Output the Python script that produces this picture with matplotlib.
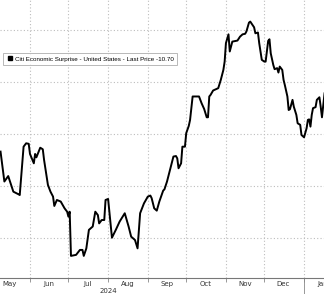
import matplotlib.pyplot as plt
import matplotlib.dates as mdates
from matplotlib.lines import Line2D
import pandas as pd

# Citi Economic Surprise Index - US
dates = ['2024-05-09', '2024-05-12', '2024-05-15', '2024-05-19', '2024-05-23', '2024-05-24',
         '2024-05-27', '2024-05-29', '2024-05-31', '2024-06-01', '2024-06-04', '2024-06-05',
         '2024-06-06', '2024-06-09', '2024-06-11', '2024-06-12', '2024-06-15', '2024-06-17',
         '2024-06-19', '2024-06-20', '2024-06-22', '2024-06-25', '2024-06-28', '2024-06-30',
         '2024-07-01', '2024-07-02', '2024-07-03', '2024-07-07', '2024-07-10', '2024-07-12',
         '2024-07-13', '2024-07-15', '2024-07-17', '2024-07-20', '2024-07-22', '2024-07-24',
         '2024-07-25', '2024-07-27', '2024-07-29', '2024-07-30', '2024-08-01', '2024-08-04',
         '2024-08-07', '2024-08-10', '2024-08-14', '2024-08-17', '2024-08-19', '2024-08-22',
         '2024-08-24', '2024-08-26', '2024-08-29', '2024-09-01', '2024-09-03', '2024-09-04',
         '2024-09-06', '2024-09-08', '2024-09-10', '2024-09-13', '2024-09-14', '2024-09-16',
         '2024-09-19', '2024-09-21', '2024-09-23', '2024-09-24', '2024-09-25', '2024-09-27',
         '2024-09-28', '2024-09-30', '2024-10-01', '2024-10-03', '2024-10-04', '2024-10-06',
         '2024-10-11', '2024-10-13', '2024-10-15', '2024-10-17', '2024-10-18', '2024-10-19',
         '2024-10-20', '2024-10-22', '2024-10-26', '2024-10-28', '2024-10-30', '2024-10-31',
         '2024-11-01', '2024-11-03', '2024-11-04', '2024-11-06', '2024-11-10', '2024-11-12',
         '2024-11-14', '2024-11-16', '2024-11-17', '2024-11-19', '2024-11-20', '2024-11-23',
         '2024-11-24', '2024-11-26', '2024-11-27', '2024-11-29', '2024-12-01', '2024-12-02',
         '2024-12-04', '2024-12-05', '2024-12-06', '2024-12-08', '2024-12-09', '2024-12-11',
         '2024-12-12', '2024-12-13', '2024-12-15', '2024-12-16', '2024-12-17', '2024-12-19',
         '2024-12-20', '2024-12-21', '2024-12-23', '2024-12-24', '2024-12-26', '2024-12-27',
         '2024-12-29', '2024-12-30', '2025-01-01', '2025-01-03', '2025-01-04', '2025-01-05',
         '2025-01-06', '2025-01-07', '2025-01-08', '2025-01-10', '2025-01-11', '2025-01-13',
         '2025-01-14', '2025-01-15', '2025-01-17']
values = [-6.8, -18.3, -16.2, -22.2, -23.2, -23.5,
          -4.9, -3.6, -3.8, -7.7, -11.3, -7.7,
          -9.0, -5.3, -5.9, -10.0, -19.6, -22.2,
          -24.1, -27.7, -25.4, -26.0, -28.6, -29.9,
          -31.8, -29.9, -46.9, -46.5, -44.6, -44.6,
          -46.9, -44.0, -36.9, -35.6, -29.9, -31.2,
          -34.4, -33.1, -33.1, -25.4, -25.0, -39.9,
          -36.9, -33.7, -30.5, -35.6, -39.5, -40.8,
          -44.0, -30.5, -26.7, -24.1, -23.7, -24.7,
          -28.6, -29.5, -26.0, -21.8, -21.3, -18.3,
          -12.6, -8.7, -8.5, -9.4, -13.2, -11.3,
          -4.9, -4.9, 0.3, 3.1, 5.4, 14.4,
          14.4, 11.8, 9.6, 6.4, 6.4, 14.4,
          15.0, 16.7, 17.6, 20.8, 24.6, 27.8,
          34.9, 38.3, 31.7, 35.5, 35.9, 37.4,
          38.3, 38.5, 39.4, 42.8, 43.2, 41.0,
          38.7, 39.0, 34.9, 28.5, 27.8, 27.8,
          35.8, 36.4, 31.0, 26.5, 24.9, 25.3,
          23.6, 25.9, 24.6, 20.8, 18.8, 14.4,
          9.2, 9.5, 13.1, 10.5, 7.3, 4.1,
          3.5, -0.4, -1.3, 2.2, 5.4, 5.6,
          2.8, 7.3, 9.9, 10.3, 13.1, 14.1,
          10.5, 6.4, 15.6]

label = 'Citi Economic Surprise - United States - Last Price -10.70'
grid_vals = [-40, -20, 0, 20, 40]

x = pd.to_datetime(dates)

fig = plt.figure(figsize=(3.24, 2.94), dpi=100)
ax = fig.add_axes([0, 1 - 278/294, 1, 278/294])

ax.plot(x, values, color='black', lw=1.4, solid_joinstyle='round')

ax.set_xlim(pd.Timestamp('2024-05-08 14:00'), pd.Timestamp('2025-01-16 14:00'))
ax.set_ylim(-55.4, 51.5)

# grid
ax.set_yticks(grid_vals)
ax.tick_params(axis='y', left=False, labelleft=False)
ax.grid(True, which='major', color='#bdbdbd', ls=(0, (1, 2)), lw=0.8)

ax.xaxis.set_major_locator(mdates.MonthLocator())
ax.xaxis.set_major_formatter(plt.NullFormatter())
ax.xaxis.set_minor_locator(mdates.MonthLocator(bymonthday=16))
ax.xaxis.set_minor_formatter(mdates.DateFormatter('%b'))
ax.tick_params(axis='x', which='major', length=3, color='#888888', width=0.6)
ax.tick_params(axis='x', which='minor', length=0, pad=2.5, labelsize=5, labelcolor='#333333')

for s in ['top', 'left', 'right']:
    ax.spines[s].set_visible(False)
ax.spines['bottom'].set_color('#777777')
ax.spines['bottom'].set_linewidth(0.8)

# year separator and year label
trans = ax.get_xaxis_transform()
ax.add_line(Line2D([pd.Timestamp('2025-01-01')] * 2, [0, -0.06], transform=trans,
                   color='#888888', lw=0.6, clip_on=False))
ax.text(pd.Timestamp('2024-08-01'), -0.048, '2024', transform=trans, ha='center', va='center',
        fontsize=5, color='#333333')

# legend box
handle = Line2D([], [], marker='s', color='black', ls='none', markersize=3.2)
leg = ax.legend([handle], [label], loc='upper left', bbox_to_anchor=(0.009, 1 - 53/278),
                prop={'family': 'Liberation Sans', 'size': 4.5}, frameon=True, fancybox=False,
                borderpad=0.5, handletextpad=0.3, handlelength=1.2, borderaxespad=0)
leg.get_frame().set_edgecolor('#999999')
leg.get_frame().set_linewidth(0.6)

fig.savefig('out.png', dpi=100)
